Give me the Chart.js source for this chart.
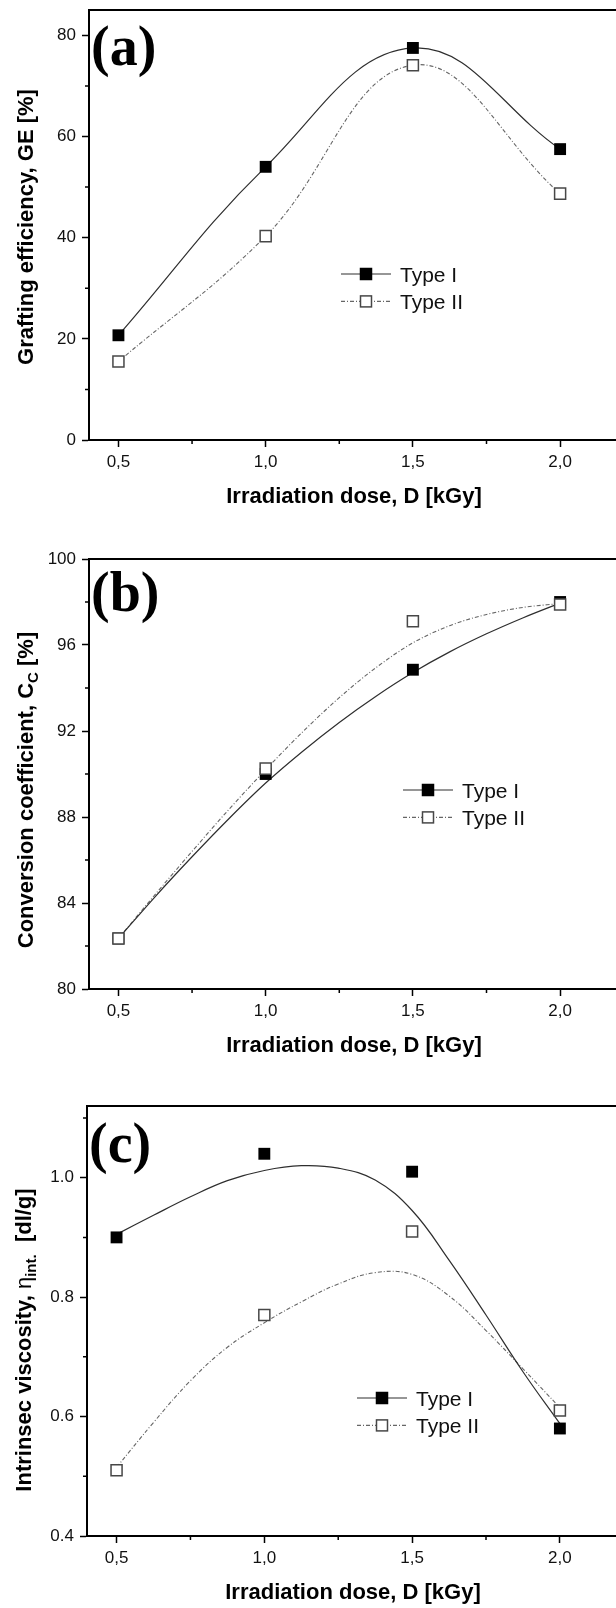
<!DOCTYPE html>
<html>
<head>
<meta charset="utf-8">
<title>Grafting / conversion / viscosity vs irradiation dose</title>
<script src="https://cdn.jsdelivr.net/npm/chart.js@4.4.1/dist/chart.umd.min.js"></script>
<style>
  html, body { margin: 0; padding: 0; background: #fff; width: 616px; height: 1608px; overflow: hidden; }
  .panel { position: absolute; left: 0; }
</style>
</head>
<body>
<canvas id="chart-a" class="panel" width="640" height="540" style="top:0px"></canvas>
<canvas id="chart-b" class="panel" width="640" height="540" style="top:549px"></canvas>
<canvas id="chart-c" class="panel" width="640" height="540" style="top:1096px"></canvas>
<script>
// Irradiation doses shared by the three panels (kGy)
const doses = [0.5, 1.0, 1.5, 2.0];
const seriesNames = ['Type I', 'Type II'];

// (a) Grafting efficiency, GE [%]
const graftingType1 = [20.7, 54.0, 77.5, 57.5];
const graftingType2 = [15.5, 40.3, 74.1, 48.7];

// (b) Conversion coefficient, Cc [%]
const conversionType1 = [82.35, 90.0, 94.85, 98.0];
const conversionType2 = [82.35, 90.25, 97.1, 97.88];

// (c) Intrinsic viscosity [dl/g]
const viscosityType1 = [0.90, 1.04, 1.01, 0.58];
const viscosityType2 = [0.51, 0.77, 0.91, 0.61];

// Fitted curves of (b) and (c), every 0.125 kGy
const fitDoses = [0.5, 0.625, 0.75, 0.875, 1.0, 1.125, 1.25, 1.375, 1.5, 1.625, 1.75, 1.875, 2.0];
const conversionFit1 = [82.35, 84.3, 86.15, 87.92, 89.58, 91.05, 92.4, 93.62, 94.72, 95.68, 96.52, 97.27, 97.95];
const conversionFit2 = [82.35, 84.4, 86.4, 88.35, 90.2, 91.95, 93.55, 94.95, 96.1, 96.9, 97.42, 97.75, 97.93];
const viscosityFit1 = [0.905, 0.937, 0.968, 0.995, 1.012, 1.02, 1.016, 0.996, 0.945, 0.862, 0.77, 0.675, 0.588];
const viscosityFit2 = [0.515, 0.59, 0.66, 0.716, 0.757, 0.792, 0.822, 0.841, 0.838, 0.802, 0.744, 0.68, 0.615];

// Axis ticks
const doseTicks = [0.5, 1.0, 1.5, 2.0];
const doseMinorTicks = [0.75, 1.25, 1.75];
const graftingTicks = [0, 20, 40, 60, 80];
const graftingMinorTicks = [10, 30, 50, 70];
const conversionTicks = [80, 84, 88, 92, 96, 100];
const conversionMinorTicks = [82, 86, 90, 94, 98];
const viscosityTicks = [0.4, 0.6, 0.8, 1.0];
const viscosityMinorTicks = [0.5, 0.7, 0.9, 1.1];

const FONT = '"Liberation Sans", Arial, sans-serif';
const SERIF = '"Liberation Serif", "Times New Roman", serif';

// line / marker look of the two series
const seriesStyles = [
    { fill: '#000', stroke: '#000', line: '#2e2e2e', width: 1.2, dash: [] },
    { fill: '#fff', stroke: '#474747', line: '#666', width: 1.1, dash: [4, 2, 1, 2] }
];

function toPoints(xs, ys) {
    return xs.map((x, i) => ({ x: x, y: ys[i] }));
}

/**
 * Draws the things Chart.js has no option for: closing frame, minor ticks,
 * panel letter, y title with subscripts and the in-plot legend.
 */
const panelDecor = {
    id: 'panelDecor',
    afterDraw(chart, args, opts) {
        const ctx = chart.ctx;
        const area = chart.chartArea;
        const xScale = chart.scales.x;
        const yScale = chart.scales.y;
        ctx.save();

        // top and right edges of the box
        ctx.strokeStyle = '#000';
        ctx.lineWidth = 2;
        ctx.beginPath();
        ctx.moveTo(area.left - 1, area.top);
        ctx.lineTo(area.right, area.top);
        ctx.lineTo(area.right, area.bottom);
        ctx.stroke();

        // minor ticks, outside the box
        ctx.lineWidth = 1.5;
        ctx.beginPath();
        opts.xMinor.forEach(v => {
            const px = xScale.getPixelForValue(v);
            ctx.moveTo(px, area.bottom);
            ctx.lineTo(px, area.bottom + 4);
        });
        opts.yMinor.forEach(v => {
            const py = yScale.getPixelForValue(v);
            ctx.moveTo(area.left - 4, py);
            ctx.lineTo(area.left, py);
        });
        ctx.stroke();

        // panel letter
        ctx.fillStyle = '#000';
        ctx.textBaseline = 'alphabetic';
        ctx.textAlign = 'left';
        ctx.font = 'bold 56px ' + SERIF;
        ctx.fillText(opts.letter, area.left + 2, area.top + opts.letterDy);

        // rotated y title, made of segments so subscripts can be lowered
        const fontFor = s => s.sub ? 'bold 15px ' + FONT : (s.greek ? '22px ' + FONT : 'bold 22px ' + FONT);
        let total = 0;
        opts.yTitle.forEach(s => { ctx.font = fontFor(s); total += ctx.measureText(s.text).width; });
        ctx.save();
        ctx.translate(opts.yTitleX, (area.top + area.bottom) / 2 + opts.yTitleShift);
        ctx.rotate(-Math.PI / 2);
        let pos = -total / 2;
        opts.yTitle.forEach(s => {
            ctx.font = fontFor(s);
            ctx.fillText(s.text, pos, s.sub ? 5 : 0);
            pos += ctx.measureText(s.text).width;
        });
        ctx.restore();

        // legend inside the plot
        const lx = area.left + opts.legendX;
        const ly = area.top + opts.legendY;
        seriesStyles.forEach((st, i) => {
            const y = ly + i * 27.4;
            ctx.strokeStyle = st.line;
            ctx.lineWidth = st.width;
            ctx.setLineDash(st.dash);
            ctx.beginPath();
            ctx.moveTo(lx, y);
            ctx.lineTo(lx + 50, y);
            ctx.stroke();
            ctx.setLineDash([]);
            const s = 11;
            ctx.fillStyle = st.fill;
            ctx.fillRect(lx + 25 - s / 2, y - s / 2, s, s);
            ctx.strokeStyle = st.stroke;
            ctx.lineWidth = 1.5;
            ctx.strokeRect(lx + 25 - s / 2, y - s / 2, s, s);
            ctx.fillStyle = '#111';
            ctx.font = '21px ' + FONT;
            ctx.fillText(seriesNames[i], lx + 59, y + 8);
        });

        ctx.restore();
    }
};

/**
 * Build one panel
 * @param {string} canvasId - canvas element id
 * @param {Object} p - values and axis setup of the panel
 */
function createPanel(canvasId, p) {
    const canvas = document.getElementById(canvasId);
    const tickFont = { family: FONT, size: 17 };
    const curveShape = p.monotone ? { cubicInterpolationMode: 'monotone' } : { tension: 0.4 };

    return new Chart(canvas, {
        type: 'scatter',
        data: {
            datasets: [
                {
                    label: seriesNames[1],
                    data: toPoints(doses, p.type2),
                    order: 0,
                    showLine: false,
                    pointStyle: 'rect',
                    pointRadius: 7.8,
                    pointBackgroundColor: seriesStyles[1].fill,
                    pointBorderColor: seriesStyles[1].stroke,
                    pointBorderWidth: 1.5
                },
                {
                    label: seriesNames[0],
                    data: toPoints(doses, p.type1),
                    order: 1,
                    showLine: false,
                    pointStyle: 'rect',
                    pointRadius: 8.4,
                    pointBackgroundColor: seriesStyles[0].fill,
                    pointBorderColor: seriesStyles[0].stroke,
                    pointBorderWidth: 0
                },
                Object.assign({
                    label: seriesNames[0] + ' curve',
                    data: toPoints(p.curveX, p.curve1),
                    order: 2,
                    showLine: true,
                    pointRadius: 0,
                    borderColor: seriesStyles[0].line,
                    borderWidth: seriesStyles[0].width
                }, curveShape),
                Object.assign({
                    label: seriesNames[1] + ' curve',
                    data: toPoints(p.curveX, p.curve2),
                    order: 3,
                    showLine: true,
                    pointRadius: 0,
                    borderColor: seriesStyles[1].line,
                    borderWidth: seriesStyles[1].width,
                    borderDash: seriesStyles[1].dash
                }, curveShape)
            ]
        },
        options: {
            responsive: false,
            animation: false,
            events: [],
            layout: { padding: { top: 10, right: 21, bottom: 0, left: 0 } },
            plugins: {
                legend: { display: false },
                tooltip: { enabled: false },
                panelDecor: {
                    letter: p.letter,
                    letterDy: p.letterDy,
                    xMinor: doseMinorTicks,
                    yMinor: p.yMinor,
                    yTitle: p.yTitle,
                    yTitleX: p.yTitleX,
                    yTitleShift: p.yTitleShift,
                    legendX: p.legendX,
                    legendY: p.legendY
                }
            },
            scales: {
                x: {
                    type: 'linear',
                    min: 0.4,
                    max: 2.2,
                    afterFit: s => { s.height = 100; s.paddingLeft = 0; s.paddingRight = 0; },
                    afterBuildTicks: s => { s.ticks = doseTicks.map(v => ({ value: v })); },
                    ticks: {
                        autoSkip: false,
                        maxRotation: 0,
                        padding: 5,
                        color: '#111',
                        font: tickFont,
                        callback: v => v.toFixed(1).replace('.', ',')
                    },
                    grid: { drawOnChartArea: false, drawTicks: true, tickLength: 7, tickWidth: 1.5, color: '#000' },
                    border: { display: true, color: '#000', width: 2 },
                    title: {
                        display: true,
                        text: 'Irradiation dose, D [kGy]',
                        color: '#000',
                        font: { family: FONT, size: 22, weight: 'bold' },
                        padding: { top: 0, bottom: 30 }
                    }
                },
                y: {
                    type: 'linear',
                    min: p.yMin,
                    max: p.yMax,
                    afterFit: s => { s.width = p.yAxisWidth; s.paddingTop = 0; s.paddingBottom = 0; },
                    afterBuildTicks: s => { s.ticks = p.yTicks.map(v => ({ value: v })); },
                    ticks: {
                        autoSkip: false,
                        padding: 6,
                        color: '#111',
                        font: tickFont,
                        callback: p.yFormat
                    },
                    grid: { drawOnChartArea: false, drawTicks: true, tickLength: 7, tickWidth: 1.5, color: '#000' },
                    border: { display: true, color: '#000', width: 2 }
                }
            }
        },
        plugins: [panelDecor]
    });
}

createPanel('chart-a', {
    letter: '(a)', letterDy: 55,
    type1: graftingType1, type2: graftingType2,
    curveX: doses, curve1: graftingType1, curve2: graftingType2, monotone: false,
    yMin: 0, yMax: 85, yTicks: graftingTicks, yMinor: graftingMinorTicks,
    yFormat: v => String(v), yAxisWidth: 89,
    yTitle: [{ text: 'Grafting efficiency, GE [%]' }],
    yTitleX: 33, yTitleShift: 2,
    legendX: 252, legendY: 264
});

createPanel('chart-b', {
    letter: '(b)', letterDy: 52,
    type1: conversionType1, type2: conversionType2,
    curveX: fitDoses, curve1: conversionFit1, curve2: conversionFit2, monotone: true,
    yMin: 80, yMax: 100, yTicks: conversionTicks, yMinor: conversionMinorTicks,
    yFormat: v => String(v), yAxisWidth: 89,
    yTitle: [{ text: 'Conversion coefficient, C' }, { text: 'C', sub: true }, { text: ' [%]' }],
    yTitleX: 33, yTitleShift: 16,
    legendX: 314, legendY: 231
});

createPanel('chart-c', {
    letter: '(c)', letterDy: 56,
    type1: viscosityType1, type2: viscosityType2,
    curveX: fitDoses, curve1: viscosityFit1, curve2: viscosityFit2, monotone: false,
    yMin: 0.4, yMax: 1.12, yTicks: viscosityTicks, yMinor: viscosityMinorTicks,
    yFormat: v => v.toFixed(1), yAxisWidth: 87,
    yTitle: [{ text: 'Intrinsec viscosity, ' }, { text: 'η', greek: true }, { text: 'int.', sub: true }, { text: '  [dl/g]' }],
    yTitleX: 31, yTitleShift: 19,
    legendX: 270, legendY: 292
});
</script>
</body>
</html>
